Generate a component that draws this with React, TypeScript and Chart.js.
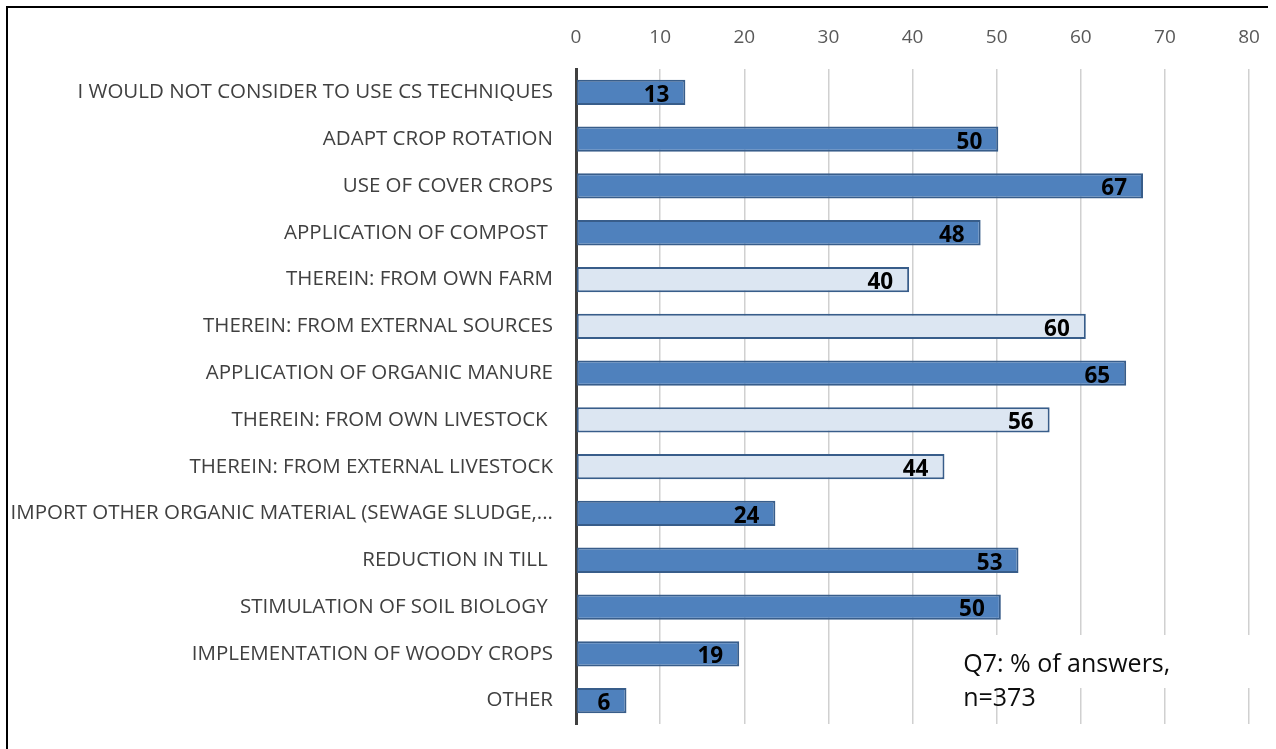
import React, { useEffect, useRef } from "react";
import { Chart, registerables } from "chart.js";

Chart.register(...registerables);

const categories: string[] = [
  "I WOULD NOT CONSIDER TO USE CS TECHNIQUES",
  "ADAPT CROP ROTATION",
  "USE OF COVER CROPS",
  "APPLICATION OF COMPOST ",
  "THEREIN: FROM OWN FARM",
  "THEREIN: FROM EXTERNAL SOURCES",
  "APPLICATION OF ORGANIC MANURE",
  "THEREIN: FROM OWN LIVESTOCK ",
  "THEREIN: FROM EXTERNAL LIVESTOCK",
  "IMPORT OTHER ORGANIC MATERIAL (SEWAGE SLUDGE,...",
  "REDUCTION IN TILL ",
  "STIMULATION OF SOIL BIOLOGY ",
  "IMPLEMENTATION OF WOODY CROPS",
  "OTHER",
];

const values: number[] = [13.0, 50.2, 67.4, 48.1, 39.6, 60.6, 65.4, 56.3, 43.8, 23.7, 52.6, 50.5, 19.4, 6.0];
const valueLabels: string[] = ["13", "50", "67", "48", "40", "60", "65", "56", "44", "24", "53", "50", "19", "6"];
const xTicks: number[] = [0, 10, 20, 30, 40, 50, 60, 70, 80];
const noteLines: string[] = ["Q7: % of answers,", "n=373"];

const DARK = "#4f81bd";
const LIGHT = "#dce6f2";
const EDGE = "#385d8a";
const FONT = "'Open Sans', 'Noto Sans', sans-serif";

export default function App() {
  const ref = useRef<HTMLCanvasElement | null>(null);

  useEffect(() => {
    if (!ref.current) return;
    const fills = categories.map((c) => (c.startsWith("THEREIN") ? LIGHT : DARK));

    const labelPlugin = {
      id: "valueLabels",
      afterDatasetsDraw(chart: any) {
        const ctx = chart.ctx;
        const meta = chart.getDatasetMeta(0);
        ctx.save();
        ctx.font = `bold 22.5px ${FONT}`;
        ctx.fillStyle = "#000000";
        ctx.textAlign = "right";
        ctx.textBaseline = "middle";
        meta.data.forEach((bar: any, i: number) => {
          ctx.fillText(valueLabels[i], bar.x - 16, bar.y + 3);
        });
        ctx.restore();
      },
    };

    const framePlugin = {
      id: "frame",
      beforeDraw(chart: any) {
        const ctx = chart.ctx;
        ctx.save();
        ctx.fillStyle = "#ffffff";
        ctx.fillRect(0, 0, chart.width, chart.height);
        ctx.restore();
      },
      afterDraw(chart: any) {
        const ctx = chart.ctx;
        const area = chart.chartArea;
        // note box
        ctx.save();
        ctx.fillStyle = "#ffffff";
        const bx = area.left + (area.right - area.left) * 0.556;
        const by = area.bottom - 89;
        ctx.fillRect(bx, by, area.right + 12 - bx, 53);
        ctx.fillStyle = "#0d0d0d";
        ctx.font = `25px ${FONT}`;
        ctx.textAlign = "left";
        ctx.textBaseline = "middle";
        noteLines.forEach((t, i) => {
          ctx.fillText(t, bx + 13, by + 30 + i * 34);
        });
        // outer frame (top and left edges)
        ctx.strokeStyle = "#000000";
        ctx.lineWidth = 2;
        ctx.beginPath();
        ctx.moveTo(7, chart.height);
        ctx.lineTo(7, 7);
        ctx.lineTo(chart.width - 8, 7);
        ctx.stroke();
        ctx.restore();
      },
    };

    const chart = new Chart(ref.current, {
      type: "bar",
      data: {
        labels: categories,
        datasets: [
          {
            data: values,
            backgroundColor: fills,
            borderColor: EDGE,
            borderWidth: 2,
            borderSkipped: false,
            categoryPercentage: 1,
            barPercentage: 0.54,
          },
        ],
      },
      options: {
        indexAxis: "y",
        animation: false,
        responsive: false,
        maintainAspectRatio: false,
        layout: { padding: { left: 0, right: 27, top: 0, bottom: 25 } },
        plugins: { legend: { display: false }, tooltip: { enabled: false } },
        scales: {
          x: {
            position: "top",
            min: 0,
            max: 80,
            afterBuildTicks(scale: any) {
              scale.ticks = xTicks.map((v) => ({ value: v }));
            },
            afterFit(scale: any) {
              scale.height = 69;
              scale.paddingLeft = 0;
              scale.paddingRight = 0;
            },
            grid: { color: "#d0d0d0", lineWidth: 1.5, drawTicks: false },
            border: { display: false },
            ticks: {
              color: "#595959",
              font: { family: FONT, size: 19 },
              padding: 20,
            },
          },
          y: {
            afterFit(scale: any) {
              scale.width = 576;
              scale.paddingTop = 0;
              scale.paddingBottom = 0;
            },
            grid: { display: false, drawTicks: false },
            border: { display: true, color: "#404040", width: 3 },
            ticks: {
              color: "#404040",
              font: { family: FONT, size: 20.5 },
              padding: 23,
              autoSkip: false,
            },
          },
        },
      },
      plugins: [labelPlugin, framePlugin],
    });
    return () => chart.destroy();
  }, []);

  return (
    <div style={{ position: "fixed", left: 0, top: 0, width: 1276, height: 749, background: "#fff" }}>
      <canvas ref={ref} width={1276} height={749} style={{ display: "block" }} />
    </div>
  );
}
